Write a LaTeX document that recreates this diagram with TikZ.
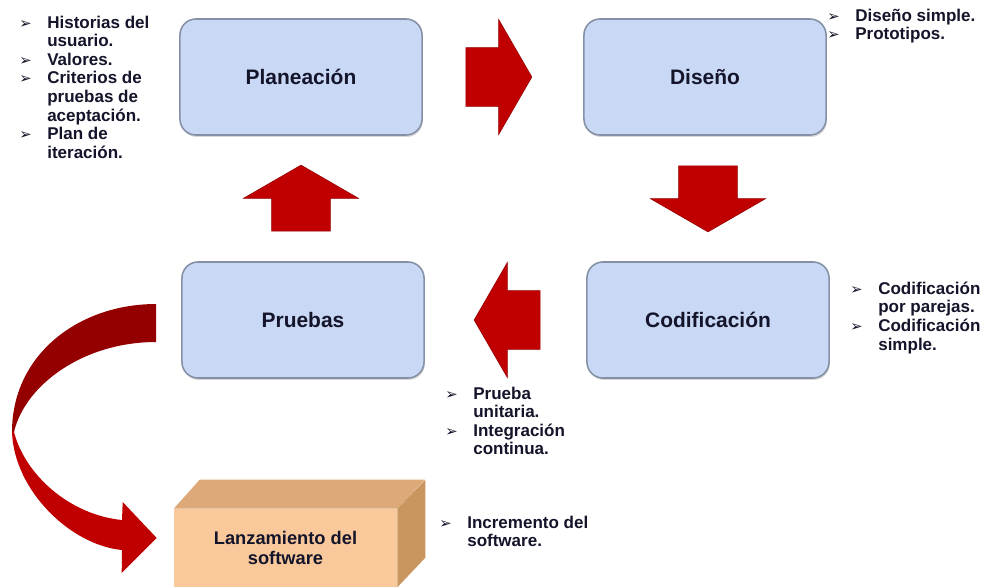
\documentclass[tikz,border=0pt]{standalone}
\usepackage{fontspec}
\setmainfont{Liberation Sans}
\newfontfamily\dejavu{DejaVu Sans}
\usetikzlibrary{calc,positioning,shapes.arrows,shadows}
\definecolor{tinta}{HTML}{14142A}
\definecolor{cajaazul}{HTML}{C9D8F4}
\definecolor{bordeazul}{HTML}{8590A6}
\definecolor{rojoflecha}{HTML}{C00000}
\definecolor{rojooscuro}{HTML}{940000}
\definecolor{frentecaja}{HTML}{F9C99C}
\definecolor{techocaja}{HTML}{DDA978}
\definecolor{ladocaja}{HTML}{C9965F}
\newcommand{\vineta}{\makebox[0.7cm][l]{\dejavu\fontsize{10.5}{10.5}\selectfont ➢}}
\newcommand{\sangria}{\hspace*{0.7cm}}
\tikzset{
  fase/.style={draw=bordeazul,line width=1.1pt,fill=cajaazul,rounded corners=0.4cm,
    minimum width=6.05cm,minimum height=2.9cm,inner sep=0pt,
    font=\bfseries\fontsize{14.9}{17}\selectfont,text=tinta,
    drop shadow={shadow xshift=.6pt,shadow yshift=-1.4pt,opacity=.3,fill=gray}},
  flecha bloque/.style={single arrow,fill=rojoflecha,draw=rojooscuro,line width=.4pt,
    minimum height=1.65cm,minimum width=2.88cm,single arrow head extend=0.71cm,
    single arrow tip angle=120,inner xsep=0pt,inner ysep=0.725cm,anchor=tip},
  caja frente/.style={fill=frentecaja,minimum width=5.575cm,minimum height=1.95cm,
    inner sep=0pt,align=center,font=\bfseries\fontsize{13}{14.4}\selectfont,text=tinta},
  lista/.style={anchor=north west,inner sep=0pt,align=left,
    font=\bfseries\fontsize{12.1}{13.2}\selectfont,text=tinta}
}
\begin{document}
\begin{tikzpicture}[x=0.025cm,y=-0.025cm]
  \path[use as bounding box] (0,0) rectangle (1001,587);
  \fill[white] (0,0) rectangle (1001,587);

  % fases del ciclo
  \node[fase] (plan) at (301,77) {Planeación};
  \node[fase] (dis) at (705,77) {Diseño};
  \node[fase] (pru) at (303,320) {Pruebas};
  \node[fase] (cod) at (708,320) {Codificación};

  % flechas entre fases (la punta queda frente a la fase siguiente)
  \node[flecha bloque] (f1) at ($(dis.west)+(-51,0)$) {};
  \node[flecha bloque,rotate=-90] (f2) at ($(cod.north)+(0,-29)$) {};
  \node[flecha bloque,rotate=180] (f3) at ($(pru.east)+(49,0)$) {};
  \node[flecha bloque,rotate=90] (f4) at ($(plan.south)+(0,29)$) {};

  % lanzamiento (caja en relieve)
  \node[caja frente] (lanz) at (285.5,548) {Lanzamiento del\\software};
  \fill[techocaja] (lanz.north west) -- ++(26,-29) -- ++(225,0) -- (lanz.north east) -- cycle;
  \fill[ladocaja] (lanz.north east) -- ++(28,-29) -- ++(0,78) -- (lanz.south east) -- cycle;

  % flecha curva de pruebas a lanzamiento
  \coordinate (c1) at ($(pru.west)+(-25,-16)$);
  \coordinate (c2) at ($(pru.west)+(-25,22)$);
  \coordinate (punta) at ($(lanz.west)+(-17,-10)$);
  \fill[rojooscuro] (c1) .. controls +(-78,0) and +(0,-77) .. (12,432)
    -- (14,432) .. controls +(11,-47) and +(-73,0) .. (c2) -- cycle;
  \fill[rojoflecha] (12,432) .. controls +(2,58) and +(-52,-5) .. (122,550)
    -- ($(punta)+(-35,35)$) -- (punta) -- ($(punta)+(-34,-36)$) -- (122,520)
    .. controls +(-52,-5) and +(11,43) .. (14,432) -- cycle;

  % notas de cada fase
  \node[lista] (notasPlan) at (19,15.6) {\vineta Historias del\\\sangria usuario.\\
    \vineta Valores.\\\vineta Criterios de\\\sangria pruebas de\\\sangria aceptación.\\
    \vineta Plan de\\\sangria iteración.};
  \node[lista] (notasDis) at (827,8.6) {\vineta Diseño simple.\\\vineta Prototipos.};
  \node[lista] (notasCod) at (850,281.6) {\vineta Codificación\\\sangria por parejas.\\
    \vineta Codificación\\\sangria simple.};
  \node[lista] (notasPru) at (445,386.6) {\vineta Prueba\\\sangria unitaria.\\
    \vineta Integración\\\sangria continua.};
  \node[lista] (notasLanz) at (439,515.6) {\vineta Incremento del\\\sangria software.};
\end{tikzpicture}
\end{document}
